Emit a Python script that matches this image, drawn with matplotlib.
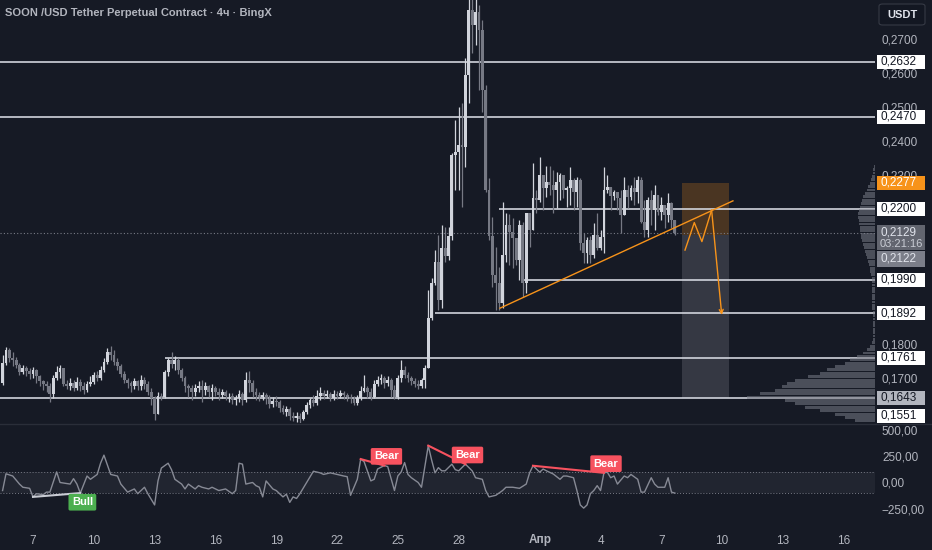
import numpy as np
import pandas as pd
import matplotlib
matplotlib.use('Agg')
import matplotlib.pyplot as plt
from matplotlib.patches import Rectangle, FancyBboxPatch
from matplotlib.lines import Line2D

plt.rcParams['font.family'] = ['Liberation Sans', 'DejaVu Sans']

BG = '#161a25'
TXT = '#b2b5be'
UP = '#d1d4dc'
DOWN = '#767984'
ORANGE = '#f7931a'
RED = '#f7525f'
GREEN = '#4caf50'

# ---- 4h candles, SOON/USDT (open of each bar = previous close) ----
first_open = 0.1687
closes = [
    0.1746, 0.1784, 0.1760, 0.1755, 0.1740, 0.1719, 0.1731, 0.1722, 0.1713, 0.1725,
    0.1707, 0.1693, 0.1684, 0.1678, 0.1654, 0.1701, 0.1719, 0.1731, 0.1684, 0.1678,
    0.1687, 0.1672, 0.1690, 0.1678, 0.1666, 0.1684, 0.1690, 0.1710, 0.1701, 0.1725,
    0.1749, 0.1778, 0.1769, 0.1749, 0.1737, 0.1713, 0.1695, 0.1687, 0.1678, 0.1693,
    0.1678, 0.1695, 0.1684, 0.1660, 0.1642, 0.1595, 0.1648, 0.1645, 0.1719, 0.1755,
    0.1743, 0.1755, 0.1725, 0.1701, 0.1678, 0.1672, 0.1660, 0.1672, 0.1678, 0.1666,
    0.1678, 0.1660, 0.1672, 0.1660, 0.1651, 0.1660, 0.1648, 0.1648, 0.1636, 0.1642,
    0.1654, 0.1636, 0.1695, 0.1687, 0.1660, 0.1651, 0.1645, 0.1651, 0.1639, 0.1625,
    0.1634, 0.1631, 0.1613, 0.1601, 0.1610, 0.1589, 0.1583, 0.1589, 0.1580, 0.1601,
    0.1622, 0.1636, 0.1628, 0.1648, 0.1657, 0.1648, 0.1654, 0.1642, 0.1654, 0.1648,
    0.1657, 0.1651, 0.1645, 0.1639, 0.1628, 0.1642, 0.1663, 0.1672, 0.1660, 0.1645,
    0.1684, 0.1695, 0.1701, 0.1687, 0.1695, 0.1666, 0.1645, 0.1701, 0.1725, 0.1710,
    0.1701, 0.1693, 0.1684, 0.1678, 0.1695, 0.1731, 0.1878, 0.1981, 0.2043, 0.1931,
    0.2084, 0.2061, 0.2119, 0.2358, 0.2367, 0.2388, 0.2382, 0.2594, 0.2785, 0.2741,
    0.2779, 0.2726, 0.2550, 0.2255, 0.2119, 0.2005, 0.1981, 0.1922, 0.2064, 0.2152,
    0.2131, 0.2114, 0.2049, 0.2152, 0.1981, 0.2187, 0.2137, 0.2231, 0.2226, 0.2299,
    0.2261, 0.2279, 0.2270, 0.2255, 0.2279, 0.2299, 0.2255, 0.2261, 0.2285, 0.2249,
    0.2285, 0.2099, 0.2069, 0.2108, 0.2064, 0.2122, 0.2084, 0.2117, 0.2255, 0.2264,
    0.2237, 0.2249, 0.2231, 0.2181, 0.2255, 0.2234, 0.2261, 0.2249, 0.2285, 0.2161,
    0.2137, 0.2226, 0.2196, 0.2240, 0.2190, 0.2211, 0.2181, 0.2217, 0.2167, 0.2129,
]
highs = [
    0.1769, 0.1793, 0.1790, 0.1778, 0.1763, 0.1746, 0.1740, 0.1737, 0.1731, 0.1734,
    0.1728, 0.1710, 0.1695, 0.1693, 0.1687, 0.1710, 0.1737, 0.1740, 0.1731, 0.1695,
    0.1701, 0.1695, 0.1704, 0.1698, 0.1690, 0.1693, 0.1707, 0.1719, 0.1722, 0.1737,
    0.1760, 0.1790, 0.1795, 0.1784, 0.1760, 0.1743, 0.1722, 0.1701, 0.1693, 0.1701,
    0.1695, 0.1710, 0.1704, 0.1693, 0.1672, 0.1648, 0.1660, 0.1657, 0.1725, 0.1760,
    0.1778, 0.1766, 0.1760, 0.1731, 0.1707, 0.1684, 0.1681, 0.1684, 0.1693, 0.1695,
    0.1690, 0.1681, 0.1684, 0.1678, 0.1672, 0.1669, 0.1666, 0.1657, 0.1657, 0.1651,
    0.1666, 0.1660, 0.1719, 0.1722, 0.1695, 0.1672, 0.1660, 0.1660, 0.1657, 0.1651,
    0.1645, 0.1648, 0.1636, 0.1622, 0.1619, 0.1616, 0.1601, 0.1601, 0.1598, 0.1607,
    0.1631, 0.1642, 0.1651, 0.1666, 0.1675, 0.1666, 0.1666, 0.1660, 0.1666, 0.1663,
    0.1666, 0.1663, 0.1657, 0.1654, 0.1648, 0.1651, 0.1678, 0.1710, 0.1678, 0.1672,
    0.1695, 0.1707, 0.1713, 0.1707, 0.1707, 0.1701, 0.1681, 0.1710, 0.1755, 0.1737,
    0.1719, 0.1707, 0.1701, 0.1695, 0.1701, 0.1740, 0.1960, 0.1996, 0.2078, 0.2122,
    0.2152, 0.2146, 0.2146, 0.2364, 0.2461, 0.2499, 0.2511, 0.2644, 0.2900, 0.2900,
    0.2850, 0.2800, 0.2756, 0.2564, 0.2290, 0.2175, 0.2087, 0.2028, 0.2220, 0.2187,
    0.2184, 0.2172, 0.2108, 0.2167, 0.2161, 0.2187, 0.2143, 0.2335, 0.2255, 0.2352,
    0.2285, 0.2326, 0.2326, 0.2314, 0.2308, 0.2305, 0.2299, 0.2267, 0.2323, 0.2290,
    0.2293, 0.2290, 0.2128, 0.2117, 0.2119, 0.2158, 0.2187, 0.2137, 0.2323, 0.2299,
    0.2264, 0.2255, 0.2246, 0.2255, 0.2293, 0.2270, 0.2270, 0.2293, 0.2296, 0.2293,
    0.2226, 0.2234, 0.2255, 0.2270, 0.2226, 0.2234, 0.2205, 0.2246, 0.2220, 0.2143,
]
lows = [
    0.1681, 0.1740, 0.1749, 0.1737, 0.1731, 0.1710, 0.1713, 0.1707, 0.1698, 0.1701,
    0.1687, 0.1678, 0.1666, 0.1660, 0.1631, 0.1642, 0.1695, 0.1701, 0.1678, 0.1669,
    0.1666, 0.1663, 0.1666, 0.1663, 0.1654, 0.1660, 0.1678, 0.1684, 0.1693, 0.1695,
    0.1719, 0.1743, 0.1755, 0.1740, 0.1725, 0.1704, 0.1687, 0.1672, 0.1660, 0.1669,
    0.1666, 0.1666, 0.1669, 0.1651, 0.1622, 0.1578, 0.1601, 0.1636, 0.1642, 0.1707,
    0.1731, 0.1725, 0.1713, 0.1693, 0.1660, 0.1645, 0.1636, 0.1648, 0.1660, 0.1631,
    0.1651, 0.1645, 0.1636, 0.1648, 0.1636, 0.1642, 0.1636, 0.1631, 0.1625, 0.1622,
    0.1631, 0.1622, 0.1631, 0.1660, 0.1645, 0.1636, 0.1634, 0.1636, 0.1625, 0.1613,
    0.1616, 0.1619, 0.1601, 0.1595, 0.1589, 0.1578, 0.1575, 0.1572, 0.1560, 0.1578,
    0.1595, 0.1613, 0.1619, 0.1622, 0.1636, 0.1639, 0.1642, 0.1634, 0.1636, 0.1639,
    0.1642, 0.1639, 0.1634, 0.1628, 0.1622, 0.1622, 0.1636, 0.1660, 0.1642, 0.1636,
    0.1642, 0.1678, 0.1684, 0.1672, 0.1678, 0.1645, 0.1639, 0.1639, 0.1690, 0.1701,
    0.1690, 0.1681, 0.1675, 0.1669, 0.1672, 0.1672, 0.1734, 0.1872, 0.1975, 0.1901,
    0.1907, 0.2043, 0.2049, 0.2108, 0.2255, 0.2255, 0.2205, 0.2323, 0.2511, 0.2659,
    0.2682, 0.2550, 0.2485, 0.2249, 0.2108, 0.1969, 0.1901, 0.1901, 0.1907, 0.2043,
    0.2034, 0.2025, 0.2034, 0.1990, 0.1940, 0.1952, 0.2087, 0.2137, 0.2187, 0.2220,
    0.2196, 0.2234, 0.2240, 0.2187, 0.2202, 0.2226, 0.2231, 0.2205, 0.2211, 0.2196,
    0.2205, 0.2078, 0.2040, 0.2040, 0.2040, 0.2055, 0.2078, 0.2078, 0.2069, 0.2246,
    0.2196, 0.2226, 0.2196, 0.2128, 0.2181, 0.2202, 0.2226, 0.2211, 0.2217, 0.2158,
    0.2117, 0.2117, 0.2152, 0.2137, 0.2181, 0.2167, 0.2143, 0.2161, 0.2143, 0.2122,
]
first_bar = '2025-03-05 12:00'

# CCI readings (bar index, value)
cci_bar = [0, 1, 3, 5, 6, 8, 9, 10, 12, 13, 14, 16, 17, 20, 21, 22, 23, 25, 26, 28,
           29, 30, 32, 34, 35, 37, 39, 40, 42, 43, 45, 46, 47, 49, 50, 51, 53, 54, 55, 57,
           58, 59, 61, 62, 64, 66, 68, 69, 70, 71, 72, 74, 75, 76, 77, 78, 80, 81, 83, 84,
           85, 86, 87, 88, 90, 92, 94, 95, 97, 99, 101, 102, 103, 105, 106, 107, 108, 109, 110, 111,
           113, 114, 116, 117, 118, 119, 120, 121, 123, 124, 126, 127, 128, 129, 130, 131, 133, 134, 135, 137,
           139, 140, 142, 143, 144, 146, 148, 149, 151, 152, 153, 155, 156, 157, 159, 160, 161, 163, 165, 166,
           167, 169, 170, 171, 172, 173, 174, 175, 176, 177, 178, 179, 180, 181, 182, 184, 185, 186, 188, 189,
           190, 192, 193, 194, 196, 197, 198, 199]
cci_val = [-76, 82, 61, -15, -45, -55, -136, -106, -115, -91, -91, 100, 0, -15, 36, -15, -100, 61, 30, 76,
           182, 258, 76, 61, -15, -91, -61, -106, -45, -106, -212, 15, 136, 182, 121, 30, -15, -61, -15, -61,
           -30, -45, -61, -45, -76, -61, -106, -76, 182, 173, -15, 0, -30, -45, -136, 15, -61, -76, -136, -110,
           -188, -136, -151, -106, 0, 106, 91, 76, 91, 76, 61, 55, -121, 30, 221, 197, 106, 15, 30, 127,
           160, 150, -76, 61, 100, 188, 76, 45, 0, -45, 348, 212, 91, 140, 110, 110, 173, 121, 110, 173,
           110, 45, 30, -76, -136, -121, -76, -45, -45, -50, -55, -15, 91, 158, 97, 127, 110, 80, 30, 61,
           61, 45, -76, -212, -242, -212, -106, -76, -30, -76, 91, 97, 45, 61, -15, 61, 45, 76, 30, -91,
           -91, 45, -15, -45, -45, 45, -91, -100]

div_kind = ['Bull', 'Bear', 'Bear', 'Bear']
div_from = [9, 106, 126, 157]
div_to = [23, 113, 137, 178]

# drawn levels and where each starts
levels = [0.2632, 0.2470, 0.2200, 0.1990, 0.1892, 0.1761, 0.1643]
level_start = [None, None, '2025-03-30 00:00', '2025-03-31 04:00',
               '2025-03-26 20:00', '2025-03-13 12:00', None]

trend_t = ['2025-03-30 01:00', '2025-04-10 12:45']
trend_p = [0.1907, 0.2223]
proj_t = ['2025-04-08 04:00', '2025-04-08 15:00', '2025-04-09 00:00',
          '2025-04-09 11:30', '2025-04-09 23:30']
proj_p = [0.2078, 0.2159, 0.2103, 0.2196, 0.1887]
box_t = ['2025-04-08 00:00', '2025-04-10 08:00']
stop_p, entry_p, target_p = 0.2277, 0.2122, 0.1643
last_p = 0.2129
low_p = 0.1551

# volume profile, 0.001 bins starting at 0.157
vp_start = 0.157
vp_vol = [20, 30, 40, 55, 70, 80, 90, 128, 115, 100, 93, 88, 80, 67, 55, 48, 40, 30, 25, 18,
          12, 8, 5, 3, 2, 2, 2, 2, 2, 2, 2, 2, 2, 3, 3, 3, 3, 3, 3, 3,
          3, 3, 3, 4, 5, 5, 6, 7, 8, 9, 10, 11, 12, 13, 14, 14, 15, 15, 16, 16,
          17, 17, 16, 15, 14, 13, 12, 10, 8, 7, 5, 4, 3, 2, 2, 1]

# price-scale labels left visible (the rest sit under the tags)
price_ticks = [0.17, 0.18, 0.23, 0.24, 0.25, 0.26, 0.27]

date_ticks = ['2025-03-07', '2025-03-10', '2025-03-13', '2025-03-16', '2025-03-19',
              '2025-03-22', '2025-03-25', '2025-03-28', '2025-04-01', '2025-04-04',
              '2025-04-07', '2025-04-10', '2025-04-13', '2025-04-16']
date_labels = ['7', '10', '13', '16', '19', '22', '25', '28', 'Апр', '4', '7', '10', '13', '16']

T0 = pd.Timestamp('2025-03-07')


def days(ts):
    return (pd.to_datetime(ts) - T0) / pd.Timedelta(days=1)


def fmt(v):
    return f'{v:.4f}'.replace('.', ',')


bar_t = pd.date_range(first_bar, periods=len(closes), freq='4h')
x = np.asarray(days(bar_t), dtype=float)
c = np.array(closes)
o = np.r_[first_open, c[:-1]]
hi = np.maximum(np.array(highs), np.maximum(o, c))
lo = np.minimum(np.array(lows), np.minimum(o, c))

XMIN, XMAX = -1.628, 41.54
YTOP, YBOT = 0.28146, 0.15687
AXW, AXH = 875, 423
ppx = (YTOP - YBOT) / AXH

fig = plt.figure(figsize=(9.32, 5.5), dpi=100, facecolor=BG)
ax = fig.add_axes([0, 1 - 423 / 550, AXW / 932, 423 / 550])
ax2 = fig.add_axes([0, 1 - 522 / 550, AXW / 932, 98 / 550])
for a in (ax, ax2):
    a.set_facecolor(BG)
    for s in a.spines.values():
        s.set_visible(False)

# candles
col = np.where(c >= o, UP, DOWN)
ax.vlines(x, lo, hi, colors=col, lw=0.9, zorder=3)
ax.bar(x, np.maximum(np.abs(c - o), 0.00012), bottom=np.minimum(o, c),
       width=0.14, color=col, linewidth=0, zorder=3)

# horizontal levels
for lvl, st in zip(levels, level_start):
    x0 = XMIN if st is None else days(st)
    ax.hlines(lvl, x0, XMAX, color=UP, lw=1.2, zorder=2)
ax.axhline(last_p, color='#787b86', lw=0.8, ls=(0, (1, 2)), zorder=2)

# short position tool
bx0, bx1 = days(box_t[0]), days(box_t[1])
ax.add_patch(Rectangle((bx0, entry_p), bx1 - bx0, stop_p - entry_p,
                       fc=ORANGE, alpha=0.23, lw=0, zorder=1))
ax.add_patch(Rectangle((bx0, target_p), bx1 - bx0, entry_p - target_p,
                       fc=TXT, alpha=0.2, lw=0, zorder=1))

# trend line and projected path
ax.plot(days(trend_t), trend_p, color=ORANGE, lw=1, zorder=4)
pt = np.asarray(days(proj_t), dtype=float)
ax.plot(pt[:-1], proj_p[:-1], color=ORANGE, lw=1, zorder=4)
ax.annotate('', xy=(pt[-1], proj_p[-1]), xytext=(pt[-2], proj_p[-2]),
            arrowprops=dict(arrowstyle='->', color=ORANGE, lw=1,
                            mutation_scale=7, shrinkA=0, shrinkB=0), zorder=4)

# volume profile on the right
vp = ax.twiny()
vp_p = vp_start + 0.001 * np.arange(len(vp_vol)) + 0.0005
vp.barh(vp_p, vp_vol, height=0.00085, left=0, color='#787b86', alpha=0.55, lw=0)
vp.set_xlim(AXW, 0)
vp.set_axis_off()

ax.set_xlim(XMIN, XMAX)
ax.set_ylim(YBOT, YTOP)

# price scale
ax.yaxis.tick_right()
ax.set_yticks(price_ticks)
ax.set_yticklabels([fmt(v) for v in price_ticks])
ax.tick_params(axis='y', length=0, pad=5, labelsize=8.5, labelcolor=TXT)
ax.tick_params(axis='x', bottom=False, labelbottom=False)

trans = ax.get_yaxis_transform()
tx0, tw, ttx = 1 + 2 / AXW, 48 / AXW, 1 + 5 / AXW


def price_tag(yc, label, fc, tc, up_px=7, down_px=7):
    ax.add_patch(Rectangle((tx0, yc - down_px * ppx), tw, (up_px + down_px) * ppx,
                           transform=trans, fc=fc, ec='none', clip_on=False, zorder=5))
    ax.text(ttx, yc, label, transform=trans, color=tc, fontsize=8.5,
            va='center', ha='left', clip_on=False, zorder=6)


for lvl in levels[:-1]:
    price_tag(lvl, fmt(lvl), 'white', '#131722')
price_tag(stop_p, fmt(stop_p), ORANGE, 'white')
price_tag(target_p, fmt(target_p), TXT, '#131722')
price_tag(max(low_p, YBOT + 7 * ppx), fmt(low_p), 'white', '#131722')
price_tag(last_p, fmt(last_p), '#62656f', '#e0e3eb', up_px=8, down_px=17)
ax.text(ttx, last_p - 11 * ppx, '03:21:16', transform=trans, color='#c9ccd4',
        fontsize=8, va='center', ha='left', clip_on=False, zorder=6)
price_tag(last_p - 26 * ppx, fmt(entry_p), '#7b7e89', '#e0e3eb', up_px=8, down_px=8)

# CCI pane
ax2.set_ylim(-373, 552)
ax2.axhspan(-100, 100, color='#787b86', alpha=0.12, lw=0)
for lv in (100, -100):
    ax2.axhline(lv, color='#787b86', lw=0.7, ls=(0, (1, 2)))
ax2.plot(x[cci_bar], cci_val, color='#878a95', lw=1, zorder=3)
cci_at = dict(zip(cci_bar, cci_val))
for kind, b0, b1 in zip(div_kind, div_from, div_to):
    lc = RED if kind == 'Bear' else '#c9ccd4'
    fc = RED if kind == 'Bear' else GREEN
    ax2.plot([x[b0], x[b1]], [cci_at[b0], cci_at[b1]], color=lc, lw=1.5, zorder=4)
    dy = 3 if kind == 'Bear' else -3
    ax2.annotate(kind, xy=(x[b1], cci_at[b1]), xytext=(1.5, dy), textcoords='offset points',
                 ha='center', va='bottom' if kind == 'Bear' else 'top',
                 color='white', fontsize=8, fontweight='bold', zorder=5,
                 bbox=dict(boxstyle='round,pad=0.3,rounding_size=0.15', fc=fc, ec='none'))

ax2.yaxis.tick_right()
ax2.set_yticks([-250, 0, 250, 500])
ax2.set_yticklabels(['\u2212250,00', '0,00', '250,00', '500,00'])
ax2.tick_params(axis='y', length=0, pad=5, labelsize=8.5, labelcolor=TXT)
ax2.set_xlim(XMIN, XMAX)
ax2.set_xticks(np.asarray(days(date_ticks), dtype=float))
ax2.set_xticklabels(date_labels)
ax2.tick_params(axis='x', length=0, pad=9, labelsize=8.5, labelcolor=TXT)
for lab in ax2.get_xticklabels():
    if not lab.get_text().isdigit():
        lab.set_fontweight('bold')

# chrome
fig.add_artist(Line2D([0, 1], [1 - 423.5 / 550] * 2, color='#2a2e39', lw=1))
fig.text(5 / 932, 1 - 13 / 550, 'SOON /USD Tether Perpetual Contract \u00b7 4ч \u00b7 BingX',
         color=TXT, fontsize=8, fontweight='bold', va='center', ha='left')
fig.add_artist(FancyBboxPatch((879 / 932, 1 - 25 / 550), 46 / 932, 21 / 550,
                              boxstyle='round,pad=0,rounding_size=0.004',
                              transform=fig.transFigure, fc='#131722', ec='#363a45', lw=0.8))
fig.text(902 / 932, 1 - 14.5 / 550, 'USDT', color='#e0e3eb', fontsize=8,
         fontweight='bold', va='center', ha='center')

fig.savefig('out.png', dpi=100, facecolor=BG)
